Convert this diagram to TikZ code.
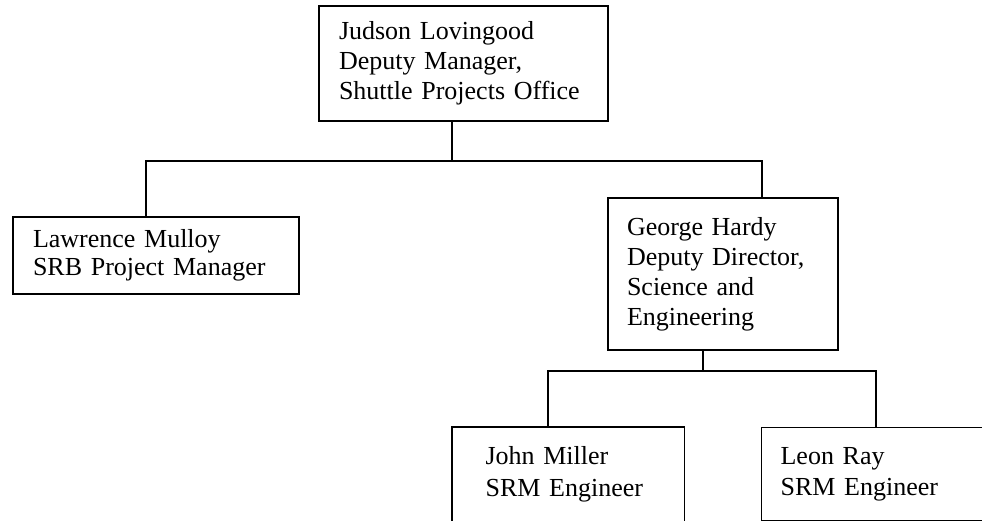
\documentclass[tikz,border=0pt]{standalone}
\usepackage{fontspec}
\setmainfont{Liberation Serif}
\begin{document}
\begin{tikzpicture}[x=1pt,y=-1pt,
  box/.style={draw, line width=2pt, anchor=north west, align=left, inner ysep=0pt,
    font=\fontsize{26}{30}\selectfont},
  thinbox/.style={box, line width=1.2pt, font=\fontsize{26}{31.5}\selectfont},
  conn/.style={line width=2pt}]
\useasboundingbox (0,0) rectangle (982,521);
\fill[white] (0,0) rectangle (982,521);
% boxes
\node[box, minimum width=289pt, minimum height=115pt, text width=249pt, inner xsep=20pt]
  (top) at (318,5) {Judson Lovingood\\Deputy Manager,\\Shuttle Projects Office};
\node[box, minimum width=286pt, minimum height=77pt, text width=246pt, inner xsep=20pt,
  font=\fontsize{26}{28}\selectfont]
  (mulloy) at (12,216) {Lawrence Mulloy\\SRB Project Manager};
\node[box, minimum width=230pt, minimum height=152pt, text width=192pt, inner xsep=19pt]
  (hardy) at (607,197) {George Hardy\\Deputy Director,\\Science and\\Engineering};
\node[thinbox, draw=none, minimum width=231pt, minimum height=93pt, text width=165pt, inner xsep=33pt]
  (miller) at (452,427) {John Miller\\SRM Engineer};
\draw[line width=1.2pt] ([yshift=-4pt]miller.south west) -- (miller.north west)
  -- (miller.north east) -- ([yshift=-4pt]miller.south east);
\node[thinbox, minimum width=240pt, minimum height=93pt, text width=202pt, inner xsep=19pt]
  (ray) at (761,427) {Leon Ray\\SRM Engineer};
% connectors
\coordinate (j1) at (452,161);
\coordinate (cL) at (146,161);
\coordinate (cR) at (762,161);
\draw[conn] (top.south -| j1) -- (j1);
\draw[conn] (mulloy.north -| cL) -- (cL) -- (cR) -- (hardy.north -| cR);
\coordinate (j2) at (703,371);
\coordinate (dL) at (548,371);
\coordinate (dR) at (876,371);
\draw[conn] (hardy.south -| j2) -- (j2);
\draw[conn] (miller.north -| dL) -- (dL) -- (dR) -- (ray.north -| dR);
\end{tikzpicture}
\end{document}
